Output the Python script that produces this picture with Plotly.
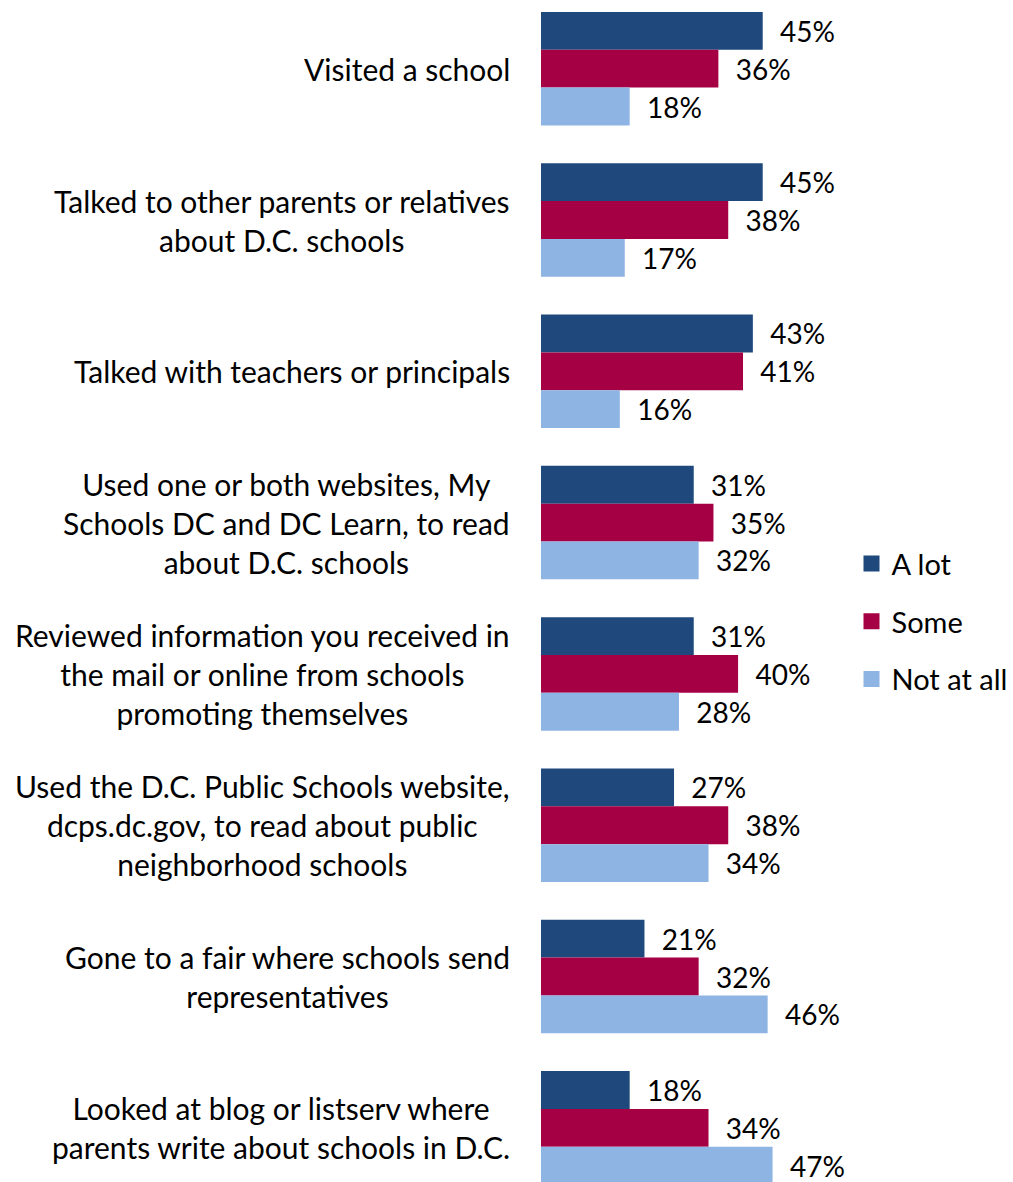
import plotly.graph_objects as go

# Survey items (top to bottom)
categories = [
    "Visited a school",
    "Talked to other parents or relatives<br>about D.C. schools",
    "Talked with teachers or principals",
    "Used one or both websites, My<br>Schools DC and DC Learn, to read<br>about D.C. schools",
    "Reviewed information you received in<br>the mail or online from schools<br>promoting themselves",
    "Used the D.C. Public Schools website,<br>dcps.dc.gov, to read about public<br>neighborhood schools",
    "Gone to a fair where schools send<br>representatives",
    "Looked at blog or listserv where<br>parents write about schools in D.C.",
]

series_names = ["A lot", "Some", "Not at all"]
a_lot = [45, 45, 43, 31, 31, 27, 21, 18]
some = [36, 38, 41, 35, 40, 38, 32, 34]
not_at_all = [18, 17, 16, 32, 28, 34, 46, 47]
colors = ["#1F497D", "#A50044", "#8EB4E3"]

FONT = "Lato"
FS_LABEL = 30
FS_VALUE = 28
FS_LEGEND = 29

positions = list(range(len(categories)))
fig = go.Figure()

for name, vals, col in zip(series_names, [a_lot, some, not_at_all], colors):
    fig.add_trace(go.Bar(
        x=vals, y=positions, orientation="h", name=name,
        marker=dict(color=col, line=dict(width=0)),
        text=[f"\u00a0\u00a0{v}%" for v in vals],
        textposition="outside", cliponaxis=False,
        textfont=dict(family=FONT, size=FS_VALUE, color="#000000"),
        showlegend=False,
    ))
    # legend swatch
    fig.add_trace(go.Scatter(
        x=[None], y=[None], mode="markers", name=name,
        marker=dict(symbol="square", size=18, color=col),
        legendgroup=name, showlegend=True,
    ))

for pos, label in zip(positions, categories):
    fig.add_annotation(
        x=-0.108, xref="paper", y=pos, yref="y",
        text=label, showarrow=False, xanchor="right", yanchor="middle",
        align="center", font=dict(family=FONT, size=FS_LABEL, color="#000000"),
    )

fig.update_layout(
    width=1013, height=1182,
    margin=dict(l=541, r=200, t=0, b=0),
    paper_bgcolor="white", plot_bgcolor="white",
    barmode="group", bargap=0.25, bargroupgap=0,
    xaxis=dict(range=[0, 54.8], visible=False, fixedrange=True),
    yaxis=dict(range=[7.358, -0.454], visible=False, fixedrange=True),
    legend=dict(
        x=1.15, xanchor="left", y=0.474, yanchor="middle",
        font=dict(family=FONT, size=FS_LEGEND, color="#000000"),
        traceorder="grouped", tracegroupgap=17,
        itemwidth=30, bgcolor="rgba(0,0,0,0)",
    ),
    showlegend=True,
)

fig.write_html("out.html")
